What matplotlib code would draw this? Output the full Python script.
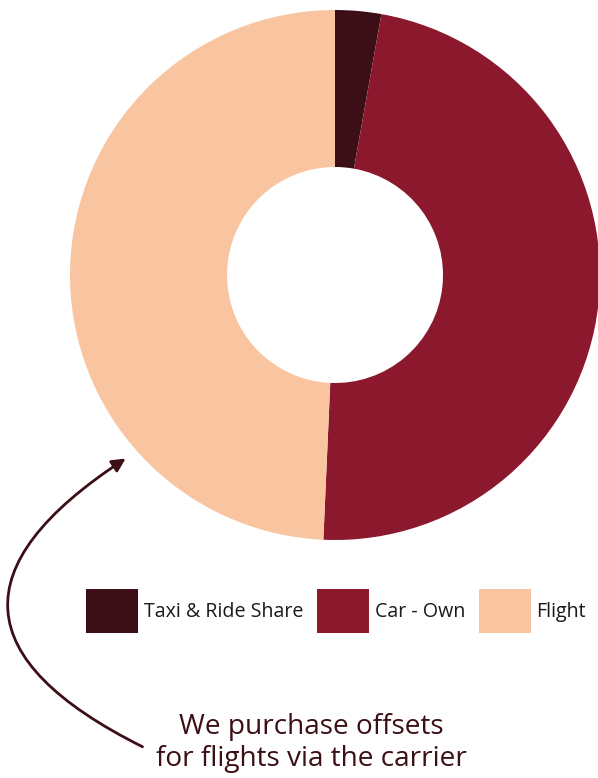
import matplotlib
matplotlib.use("Agg")
import matplotlib.pyplot as plt
from matplotlib.patches import FancyArrowPatch, Patch

categories = ["Taxi & Ride Share", "Car - Own", "Flight"]
values = [2.8, 47.9, 49.3]
colors = ["#3b0f15", "#8b182d", "#f9c5a0"]
note_text = "We purchase offsets\nfor flights via the carrier"

plt.rcParams['font.family'] = ['Open Sans', 'DejaVu Sans']

W, H = 598, 778
fig = plt.figure(figsize=(W / 100, H / 100), dpi=100)
fig.patch.set_facecolor("white")

cx, cy, r = 335, 275, 265
ax = fig.add_axes([(cx - r) / W, (H - cy - r) / H, 2 * r / W, 2 * r / H])
ax.pie(values, colors=colors, startangle=90, counterclock=False,
       radius=1.0, wedgeprops=dict(width=1 - 108 / 265, linewidth=0))
ax.set_xlim(-1, 1)
ax.set_ylim(-1, 1)
ax.set_aspect("equal")
ax.axis("off")

handles = [Patch(facecolor=c, edgecolor="none") for c in colors]
fs = 14.1
leg = fig.legend(handles, categories, loc="center", ncol=3,
                 bbox_to_anchor=(336 / W, 1 - 611 / H),
                 frameon=False, fontsize=fs, handlelength=2.65, handleheight=3.05,
                 handletextpad=0.3, columnspacing=0.71, borderpad=0,
                 labelcolor="#1a1a1a")

arrow = FancyArrowPatch((145 / W, 1 - 748 / H), (128 / W, 1 - 457 / H),
                        transform=fig.transFigure,
                        connectionstyle="arc3,rad=-0.88",
                        arrowstyle="-|>,head_length=8,head_width=4",
                        color="#3b0f15", linewidth=2)
fig.patches.append(arrow)

fig.text(311 / W, 1 - 743 / H, note_text, ha="center", va="center",
         fontsize=20.2, color="#3b0f15", linespacing=1.15)

fig.savefig("out.png", dpi=100, facecolor="white")
